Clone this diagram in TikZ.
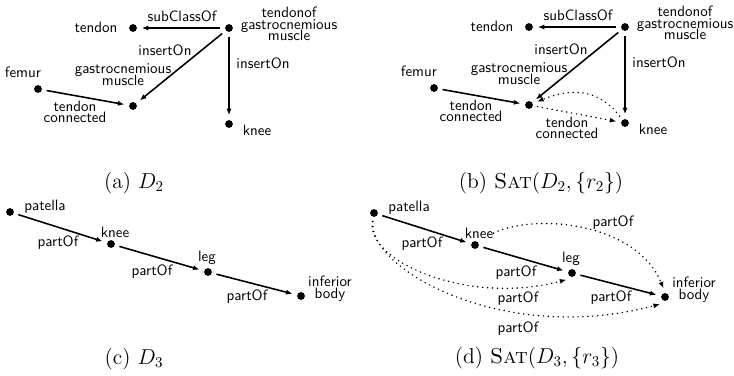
\documentclass[tikz,border=0pt]{standalone}
\usetikzlibrary{arrows.meta}
\setlength{\lineskiplimit}{-10pt}
\begin{document}
\begin{tikzpicture}[x=0.6667pt,y=0.6667pt,
  dotnode/.style={circle,fill=black,inner sep=0pt,minimum size=5.2pt,outer sep=3.2pt},
  lbl/.style={font=\sffamily\fontsize{10}{7.8}\selectfont,align=center,inner sep=0pt},
  capt/.style={font=\fontsize{14.4}{17}\selectfont,inner sep=0pt},
  rel/.style={line width=1.05pt,-{Latex[length=4.4pt,width=3.4pt]}},
  infer/.style={line width=1.1pt,dash pattern=on 0pt off 3.3pt,line cap=round,-{Latex[length=4.4pt,width=3.4pt]}},
]
\useasboundingbox (0,0) rectangle (734,-376);

% ---------- (a) ----------
\begin{scope}
\node[dotnode] (a-tendon) at (133,-28) {};
\node[lbl] (a-tendon-l) at (96,-27) {tendon};
\node[dotnode] (a-tog) at (229,-28) {};
\node[lbl] (a-tog-l) at (289,-24) {tendonof\\gastrocnemious\\muscle};
\node[dotnode] (a-gm) at (133,-106) {};
\node[lbl] (a-gm-l) at (123,-75) {gastrocnemious\\muscle};
\node[dotnode] (a-femur) at (38,-89) {};
\node[lbl] (a-femur-l) at (23,-72) {femur};
\node[dotnode] (a-knee) at (229,-124) {};
\node[lbl] (a-knee-l) at (257,-130) {knee};
\draw[rel] (a-tog) -- (a-tendon);
\draw[rel] (a-tog) -- (a-gm);
\draw[rel] (a-tog) -- (a-knee);
\draw[rel] (a-femur) -- (a-gm);
\node[lbl] (a-e1) at (182,-16) {subClassOf};
\node[lbl] (a-e2) at (165,-50) {insertOn};
\node[lbl] (a-e3) at (263,-63) {insertOn};
\node[lbl] (a-e4) at (75,-112) {tendon\\connected};
\end{scope}

% ---------- (b) ----------
\begin{scope}[shift={(396,1)}]
\node[dotnode] (b-tendon) at (133,-28) {};
\node[lbl] (b-tendon-l) at (96,-27) {tendon};
\node[dotnode] (b-tog) at (229,-28) {};
\node[lbl] (b-tog-l) at (289,-24) {tendonof\\gastrocnemious\\muscle};
\node[dotnode] (b-gm) at (133,-106) {};
\node[lbl] (b-gm-l) at (123,-75) {gastrocnemious\\muscle};
\node[dotnode] (b-femur) at (38,-89) {};
\node[lbl] (b-femur-l) at (23,-72) {femur};
\node[dotnode] (b-knee) at (229,-124) {};
\node[lbl] (b-knee-l) at (257,-130) {knee};
\draw[rel] (b-tog) -- (b-tendon);
\draw[rel] (b-tog) -- (b-gm);
\draw[rel] (b-tog) -- (b-knee);
\draw[rel] (b-femur) -- (b-gm);
\draw[infer] (b-knee) to[out=128,in=22,looseness=1.1] (b-gm);
\draw[infer] (b-gm) -- (b-knee);
\node[lbl] (b-e1) at (182,-16) {subClassOf};
\node[lbl] (b-e2) at (165,-50) {insertOn};
\node[lbl] (b-e3) at (263,-63) {insertOn};
\node[lbl] (b-e4) at (75,-112) {tendon\\connected};
\node[lbl] (b-e5) at (171,-129) {tendon\\connected};
\end{scope}

% ---------- (c) ----------
\begin{scope}
\node[dotnode] (c-pat) at (10,-212) {};
\node[lbl] (c-pat-l) at (45,-207) {patella};
\node[dotnode] (c-knee) at (111,-244) {};
\node[lbl] (c-knee-l) at (115,-232) {knee};
\node[dotnode] (c-leg) at (208,-272) {};
\node[lbl] (c-leg-l) at (207,-258) {leg};
\node[dotnode] (c-inf) at (301,-296) {};
\node[lbl] (c-inf-l) at (330,-289) {inferior\\body};
\draw[rel] (c-pat) -- (c-knee);
\draw[rel] (c-knee) -- (c-leg);
\draw[rel] (c-leg) -- (c-inf);
\node[lbl] (c-e1) at (58,-243) {partOf};
\node[lbl] (c-e2) at (152,-272) {partOf};
\node[lbl] (c-e3) at (247,-297) {partOf};
\end{scope}

% ---------- (d) ----------
\begin{scope}[shift={(364,-1)}]
\node[dotnode] (d-pat) at (10,-212) {};
\node[lbl] (d-pat-l) at (45,-207) {patella};
\node[dotnode] (d-knee) at (111,-244) {};
\node[lbl] (d-knee-l) at (115,-232) {knee};
\node[dotnode] (d-leg) at (208,-272) {};
\node[lbl] (d-leg-l) at (207,-258) {leg};
\node[dotnode] (d-inf) at (301,-296) {};
\node[lbl] (d-inf-l) at (330,-289) {inferior\\body};
\draw[rel] (d-pat) -- (d-knee);
\draw[rel] (d-knee) -- (d-leg);
\draw[rel] (d-leg) -- (d-inf);
\draw[infer] (d-knee-l.east) to[out=25,in=112,out looseness=0.7,in looseness=1] (d-inf.100);
\draw[infer] (d-pat) to[out=-100,in=195,out looseness=0.5,in looseness=1.3] (d-leg.230);
\draw[infer] (d-pat) to[out=-97,in=195,out looseness=0.4,in looseness=1.4] (d-inf.235);
\node[lbl] (d-e1) at (58,-243) {partOf};
\node[lbl] (d-e2) at (152,-272) {partOf};
\node[lbl] (d-e3) at (247,-297) {partOf};
\node[lbl] (d-e4) at (249,-222) {partOf};
\node[lbl] (d-e5) at (154,-298) {partOf};
\node[lbl] (d-e6) at (154,-328) {partOf};
\end{scope}

% ---------- captions ----------
\node[capt] (cap-a) at (134,-183) {(a) $D_2$};
\node[capt] (cap-b) at (541,-183) {(b) \textsc{Sat}$(D_2,\{r_2\})$};
\node[capt] (cap-c) at (134,-359) {(c) $D_3$};
\node[capt] (cap-d) at (537,-358) {(d) \textsc{Sat}$(D_3,\{r_3\})$};
\end{tikzpicture}
\end{document}
